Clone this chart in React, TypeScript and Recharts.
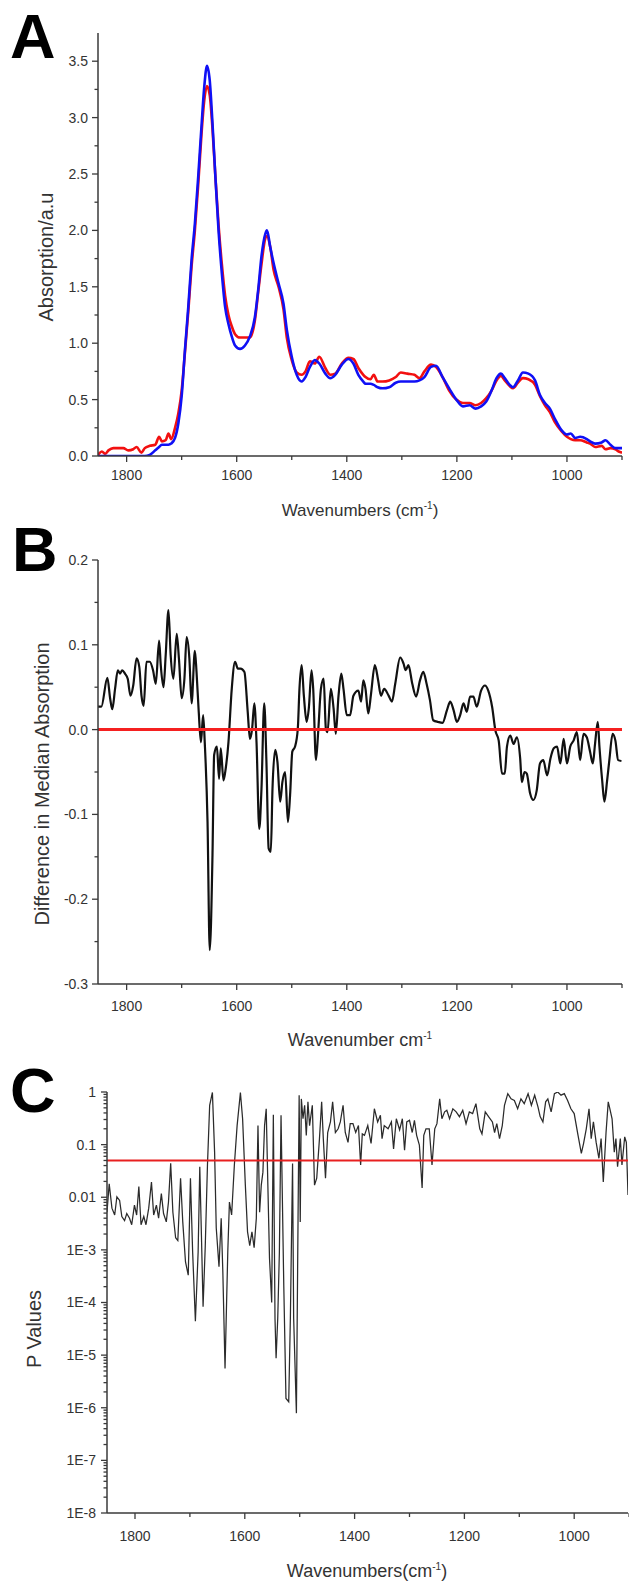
import React from "react";
import { LineChart, Line, XAxis, YAxis, ReferenceLine } from "recharts";

// ---- panel A: median absorption spectra (red / blue groups) ----
const absWavenumbers = [
  1852, 1845, 1839, 1833, 1824, 1815, 1806, 1797, 1788, 1782,
  1773, 1767, 1758, 1748, 1741, 1736, 1729, 1724, 1719, 1712,
  1706, 1700, 1694, 1688, 1682, 1676, 1670, 1664, 1659, 1654,
  1649, 1644, 1639, 1633, 1627, 1621, 1615, 1609, 1603, 1594,
  1585, 1576, 1567, 1561, 1555, 1548, 1545, 1539, 1533, 1524,
  1515, 1509, 1500, 1491, 1482, 1475, 1467, 1458, 1450, 1439,
  1430, 1421, 1409, 1397, 1388, 1379, 1370, 1366, 1357, 1351,
  1344, 1335, 1323, 1311, 1302, 1290, 1277, 1268, 1259, 1247,
  1238, 1226, 1214, 1201, 1189, 1177, 1166, 1156, 1147, 1137,
  1128, 1120, 1113, 1104, 1098, 1089, 1080, 1070, 1058, 1049,
  1040, 1031, 1022, 1010, 1000, 993, 985, 976, 964, 958,
  949, 937, 930, 921, 912, 906, 900,
];
const absRed = [
  0.01, 0.04, 0.02, 0.05, 0.07, 0.07, 0.07, 0.05, 0.06, 0.08,
  0.03, 0.07, 0.09, 0.1, 0.17, 0.13, 0.14, 0.2, 0.15, 0.25,
  0.38, 0.58, 0.92, 1.28, 1.68, 2.0, 2.4, 2.85, 3.15, 3.28,
  3.2, 2.9, 2.5, 2.05, 1.7, 1.42, 1.25, 1.15, 1.08, 1.05,
  1.05, 1.05, 1.2, 1.45, 1.7, 1.93, 1.95, 1.85, 1.65, 1.5,
  1.3, 1.05, 0.85, 0.74, 0.72, 0.75, 0.84, 0.82, 0.88, 0.78,
  0.72, 0.73, 0.82, 0.87, 0.86, 0.78, 0.72, 0.7, 0.68, 0.72,
  0.66, 0.66, 0.67, 0.7, 0.74, 0.73, 0.72, 0.69, 0.75, 0.81,
  0.79, 0.7, 0.58, 0.5, 0.47, 0.47, 0.45, 0.47, 0.51, 0.58,
  0.67, 0.71, 0.67, 0.62, 0.6, 0.65, 0.69, 0.68, 0.63, 0.53,
  0.45, 0.39, 0.3, 0.22, 0.17, 0.15, 0.14, 0.14, 0.12, 0.11,
  0.08, 0.09, 0.06, 0.07, 0.06, 0.04, 0.03,
];
const absBlue = [
  0, 0, 0, 0, 0, 0, 0, 0, 0, 0,
  0, 0, 0.01, 0.05, 0.08, 0.1, 0.1, 0.1, 0.11, 0.16,
  0.29, 0.53, 0.94, 1.32, 1.74, 2.06, 2.47, 2.92, 3.27, 3.46,
  3.33, 2.95, 2.5, 2.0, 1.62, 1.32, 1.17, 1.06, 0.98, 0.95,
  0.98, 1.06, 1.23, 1.47, 1.77, 1.97, 2.0, 1.85, 1.71, 1.53,
  1.35, 1.12, 0.88, 0.72, 0.66, 0.7, 0.79, 0.85, 0.82, 0.73,
  0.69, 0.72, 0.81, 0.86, 0.82, 0.72, 0.66, 0.64, 0.64, 0.63,
  0.61, 0.6, 0.61, 0.65, 0.66, 0.66, 0.66, 0.67, 0.7, 0.79,
  0.8, 0.7, 0.6, 0.5, 0.44, 0.45, 0.42, 0.44, 0.48, 0.58,
  0.69, 0.73, 0.69, 0.63, 0.61, 0.67, 0.74, 0.73, 0.67, 0.54,
  0.47, 0.42, 0.33, 0.23, 0.19, 0.2, 0.16, 0.17, 0.15, 0.13,
  0.11, 0.12, 0.14, 0.1, 0.07, 0.07, 0.07,
];

// ---- panel B: difference in median absorption ----
const diffWavenumbers = [
  1852, 1846, 1835, 1830, 1826, 1821, 1816, 1812, 1808, 1803,
  1798, 1793, 1788, 1782, 1777, 1773, 1769, 1764, 1758, 1752,
  1747, 1741, 1738, 1733, 1729, 1724, 1720, 1715, 1709, 1705,
  1700, 1695, 1691, 1686, 1682, 1676, 1673, 1669, 1665, 1661,
  1658, 1653, 1649, 1644, 1641, 1636, 1632, 1629, 1624, 1620,
  1615, 1609, 1603, 1598, 1593, 1586, 1580, 1576, 1572, 1568,
  1564, 1559, 1555, 1550, 1546, 1542, 1538, 1535, 1530, 1526,
  1521, 1517, 1512, 1507, 1503, 1499, 1494, 1489, 1486, 1482,
  1478, 1473, 1469, 1464, 1461, 1456, 1452, 1447, 1442, 1438,
  1435, 1429, 1424, 1420, 1415, 1410, 1406, 1400, 1394, 1388,
  1379, 1374, 1370, 1366, 1361, 1356, 1349, 1343, 1338, 1332,
  1324, 1318, 1312, 1303, 1297, 1293, 1288, 1281, 1274, 1267,
  1261, 1255, 1249, 1243, 1234, 1226, 1218, 1212, 1206, 1200,
  1194, 1188, 1182, 1176, 1170, 1164, 1156, 1149, 1143, 1136,
  1130, 1124, 1118, 1113, 1109, 1103, 1097, 1091, 1085, 1082,
  1077, 1073, 1067, 1061, 1055, 1049, 1043, 1036, 1030, 1024,
  1018, 1012, 1006, 1000, 994, 988, 982, 976, 970, 964,
  958, 953, 949, 944, 941, 936, 932, 927, 923, 917,
  912, 907, 901,
];
const diffValues = [
  0.027, 0.027, 0.061, 0.037, 0.024, 0.048, 0.07, 0.066, 0.07, 0.066,
  0.06, 0.04, 0.052, 0.084, 0.074, 0.04, 0.028, 0.08, 0.08, 0.07,
  0.054, 0.105, 0.076, 0.05, 0.088, 0.141, 0.088, 0.06, 0.113, 0.084,
  0.037, 0.06, 0.109, 0.084, 0.031, 0.093, 0.068, 0.021, -0.015, 0.017,
  -0.016, -0.109, -0.26, -0.148, -0.03, -0.02, -0.058, -0.022, -0.06, -0.046,
  -0.015, 0.048, 0.08, 0.072, 0.072, 0.068, 0.021, -0.011, 0.001, 0.031,
  -0.015, -0.117, -0.07, 0.031, -0.038, -0.14, -0.144, -0.07, -0.024, -0.038,
  -0.085, -0.062, -0.05, -0.109, -0.077, -0.026, -0.02, 0.001, 0.048, 0.076,
  0.04, 0.009, 0.025, 0.07, 0.048, -0.036, -0.003, 0.048, 0.06, 0.001,
  -0.003, 0.048, 0.025, -0.005, 0.04, 0.066, 0.048, 0.017, 0.017, 0.04,
  0.046, 0.033, 0.058, 0.048, 0.019, 0.042, 0.076, 0.058, 0.04, 0.048,
  0.04, 0.033, 0.054, 0.085, 0.078, 0.07, 0.076, 0.054, 0.039, 0.058,
  0.068, 0.054, 0.035, 0.011, 0.009, 0.008, 0.023, 0.033, 0.023, 0.009,
  0.017, 0.031, 0.021, 0.039, 0.039, 0.027, 0.046, 0.052, 0.046, 0.027,
  -0.001, -0.013, -0.052, -0.052, -0.02, -0.007, -0.017, -0.009, -0.034, -0.062,
  -0.05, -0.052, -0.075, -0.083, -0.072, -0.04, -0.036, -0.054, -0.034, -0.022,
  -0.02, -0.04, -0.011, -0.04, -0.02, -0.013, -0.003, -0.036, -0.005, -0.009,
  -0.026, -0.04, -0.017, 0.009, -0.02, -0.06, -0.085, -0.06, -0.036, -0.005,
  -0.013, -0.036, -0.037,
];

// ---- panel C: p values ----
const pWavenumbers = [
  1851, 1847, 1842, 1837, 1833, 1828, 1824, 1819, 1815, 1810,
  1806, 1801, 1797, 1793, 1789, 1784, 1780, 1775, 1770, 1766,
  1761, 1757, 1752, 1748, 1743, 1739, 1735, 1731, 1726, 1722,
  1717, 1713, 1708, 1703, 1699, 1695, 1690, 1685, 1682, 1679,
  1676, 1672, 1668, 1664, 1659, 1655, 1652, 1647, 1643, 1640,
  1636, 1631, 1628, 1624, 1619, 1614, 1608, 1604, 1599, 1595,
  1591, 1587, 1583, 1579, 1576, 1573, 1570, 1567, 1564, 1561,
  1558, 1555, 1551, 1548, 1545, 1543, 1540, 1537, 1534, 1529,
  1525, 1520, 1517, 1513, 1511, 1506, 1503, 1501, 1499, 1497,
  1494, 1491, 1488, 1485, 1482, 1477, 1473, 1469, 1464, 1460,
  1457, 1453, 1449, 1444, 1440, 1435, 1430, 1426, 1421, 1417,
  1412, 1408, 1403, 1398, 1393, 1389, 1386, 1382, 1376, 1370,
  1364, 1358, 1353, 1350, 1346, 1339, 1333, 1329, 1324, 1318,
  1313, 1309, 1305, 1300, 1295, 1291, 1287, 1282, 1277, 1274,
  1270, 1264, 1259, 1254, 1250, 1245, 1241, 1236, 1232, 1227,
  1221, 1215, 1209, 1203, 1197, 1191, 1185, 1179, 1172, 1168,
  1162, 1156, 1149, 1145, 1141, 1136, 1131, 1127, 1121, 1115,
  1109, 1103, 1097, 1091, 1084, 1078, 1072, 1066, 1062, 1057,
  1052, 1048, 1042, 1036, 1030, 1024, 1018, 1012, 1006, 1000,
  993, 987, 983, 978, 973, 969, 965, 960, 955, 951,
  947, 942, 938, 935, 931, 927, 924, 921, 916, 913,
  908, 905, 902,
];
const pValues = [
  0.0052, 0.018, 0.0062, 0.0046, 0.0102, 0.0087, 0.0043, 0.0036, 0.0049, 0.004,
  0.003, 0.0071, 0.0046, 0.016, 0.003, 0.0043, 0.003, 0.0062, 0.0195, 0.0046,
  0.0071, 0.004, 0.0117, 0.0049, 0.0034, 0.0081, 0.044, 0.0052, 0.0017, 0.0015,
  0.023, 0.0034, 5.9e-4, 3.3e-4, 0.023, 9.1e-4, 4.4e-5, 9.1e-4, 0.038, 0.0019,
  8.3e-5, 0.0012, 0.041, 0.56, 0.98, 0.072, 0.0026, 4.8e-4, 0.004, 3.8e-4,
  5.6e-6, 9.1e-4, 0.0081, 0.0046, 0.041, 0.23, 0.98, 0.31, 0.017, 0.0022,
  0.0012, 0.0022, 0.0011, 0.004, 0.23, 0.0052, 0.017, 0.03, 0.23, 0.48,
  0.017, 6.9e-4, 1.0e-4, 0.37, 5e-5, 8.7e-6, 5e-5, 9.1e-4, 0.36, 2.1e-4,
  1.5e-6, 1.3e-6, 5e-5, 0.044, 5e-5, 7.9e-7, 0.004, 0.87, 0.0034, 0.74,
  0.31, 0.56, 0.15, 0.65, 0.23, 0.56, 0.017, 0.023, 0.13, 0.65,
  0.13, 0.023, 0.17, 0.27, 0.65, 0.17, 0.2, 0.27, 0.56, 0.17,
  0.11, 0.25, 0.25, 0.17, 0.23, 0.041, 0.16, 0.15, 0.23, 0.105,
  0.48, 0.27, 0.36, 0.13, 0.23, 0.2, 0.27, 0.083, 0.31, 0.19,
  0.31, 0.078, 0.27, 0.29, 0.17, 0.29, 0.15, 0.098, 0.015, 0.15,
  0.2, 0.2, 0.041, 0.2, 0.25, 0.74, 0.31, 0.42, 0.45, 0.31,
  0.48, 0.42, 0.34, 0.45, 0.25, 0.42, 0.39, 0.6, 0.2, 0.16,
  0.42, 0.34, 0.27, 0.17, 0.25, 0.13, 0.23, 0.56, 0.93, 0.74,
  0.69, 0.48, 0.74, 0.6, 0.93, 0.56, 0.87, 0.52, 0.34, 0.27,
  0.65, 0.74, 0.42, 0.93, 1.0, 0.87, 0.93, 0.69, 0.48, 0.39,
  0.15, 0.068, 0.105, 0.2, 0.48, 0.13, 0.27, 0.11, 0.055, 0.13,
  0.0195, 0.17, 0.65, 0.48, 0.31, 0.072, 0.13, 0.038, 0.13, 0.041,
  0.14, 0.11, 0.011,
];
const pThreshold = 0.05;

// ---- ticks ----
const wnTicks = [1800, 1700, 1600, 1500, 1400, 1300, 1200, 1100, 1000, 900];
const wnLabelled = [1800, 1600, 1400, 1200, 1000];
const absTicks = [0, 0.25, 0.5, 0.75, 1, 1.25, 1.5, 1.75, 2, 2.25, 2.5, 2.75, 3, 3.25, 3.5];
const absLabelled = [0, 0.5, 1, 1.5, 2, 2.5, 3, 3.5];
const diffTicks = [-0.3, -0.25, -0.2, -0.15, -0.1, -0.05, 0, 0.05, 0.1, 0.15, 0.2];
const diffLabelled = [-0.3, -0.2, -0.1, 0, 0.1, 0.2];
const pDecades = [1, 0.1, 0.01, 1e-3, 1e-4, 1e-5, 1e-6, 1e-7, 1e-8];
const pDecadeLabels = ["1", "0.1", "0.01", "1E-3", "1E-4", "1E-5", "1E-6", "1E-7", "1E-8"];
const pMinorSteps = [2, 3, 4, 5, 6, 7, 8, 9];

const absData = absWavenumbers.map((wn, i) => ({ wn, red: absRed[i], blue: absBlue[i] }));
const diffData = diffWavenumbers.map((wn, i) => ({ wn, diff: diffValues[i] }));
const pData = pWavenumbers.map((wn, i) => ({ wn, p: pValues[i] }));
const pTicks = [...pDecades];
pDecades.slice(1).forEach((d) => pMinorSteps.forEach((m) => pTicks.push(m * d)));

const FONT = '"Liberation Sans", Arial, Helvetica, sans-serif';
const AXIS = "#3a3a3a";
const TEXT = "#333";

const near = (a: number, b: number) => Math.abs(a - b) < 1e-9 * Math.max(1, Math.abs(b));

function makeYTick(labelFor: (v: number) => string | null, gap: number) {
  return (props: any) => {
    const { x, y, payload } = props;
    const label = labelFor(payload.value);
    const len = label !== null ? 6 : 3.5;
    return (
      <g>
        <line x1={x} x2={x - len} y1={y} y2={y} stroke={AXIS} strokeWidth={1.3} />
        {label !== null && (
          <text x={x - gap} y={y} dy="0.35em" textAnchor="end" fontSize={14} fontFamily={FONT} fill={TEXT}>
            {label}
          </text>
        )}
      </g>
    );
  };
}

function makeXTick(offset: number) {
  return (props: any) => {
    const { x, y, payload } = props;
    const v = payload.value;
    const major = wnLabelled.some((t) => near(t, v));
    return (
      <g>
        <line x1={x} x2={x} y1={y} y2={y + (major ? 6 : 4)} stroke={AXIS} strokeWidth={1.3} />
        {major && (
          <text x={x} y={y + offset} dy="0.35em" textAnchor="middle" fontSize={14} fontFamily={FONT} fill={TEXT}>
            {v}
          </text>
        )}
      </g>
    );
  };
}

const absYTick = makeYTick((v) => (absLabelled.some((t) => near(t, v)) ? v.toFixed(1) : null), 10);
const diffYTick = makeYTick((v) => (diffLabelled.some((t) => near(t, v)) ? v.toFixed(1) : null), 10);
const pYTick = makeYTick((v) => {
  const i = pDecades.findIndex((d) => near(d, v));
  return i >= 0 ? pDecadeLabels[i] : null;
}, 11);

const axisLine = { stroke: AXIS, strokeWidth: 1.5 };

export default function App() {
  return (
    <div style={{ position: "absolute", left: 0, top: 0, width: 629, height: 1583, background: "#fff" }}>
      <div style={{ position: "absolute", left: 0, top: 0 }}>
        <LineChart width={629} height={530} data={absData} margin={{ top: 33, right: 7, bottom: 0, left: 0 }}>
          <XAxis
            type="number"
            dataKey="wn"
            domain={[900, 1852]}
            reversed
            allowDataOverflow
            ticks={wnTicks}
            interval={0}
            tick={makeXTick(19)}
            tickLine={false}
            tickSize={0}
            tickMargin={0}
            axisLine={axisLine}
            height={74}
          />
          <YAxis
            type="number"
            domain={[0, 3.75]}
            allowDataOverflow
            ticks={absTicks}
            interval={0}
            tick={absYTick}
            tickLine={false}
            tickSize={0}
            tickMargin={0}
            axisLine={axisLine}
            width={98}
          />
          <Line type="monotone" dataKey="red" stroke="#f21010" strokeWidth={2.6} dot={false} isAnimationActive={false} />
          <Line type="monotone" dataKey="blue" stroke="#1010f5" strokeWidth={2.6} dot={false} isAnimationActive={false} />
        </LineChart>
      </div>

      <div style={{ position: "absolute", left: 0, top: 520 }}>
        <LineChart width={629} height={520} data={diffData} margin={{ top: 40, right: 7, bottom: 0, left: 0 }}>
          <XAxis
            type="number"
            dataKey="wn"
            domain={[900, 1852]}
            reversed
            allowDataOverflow
            ticks={wnTicks}
            interval={0}
            tick={makeXTick(22)}
            tickLine={false}
            tickSize={0}
            tickMargin={0}
            axisLine={axisLine}
            height={56}
          />
          <YAxis
            type="number"
            domain={[-0.3, 0.2]}
            allowDataOverflow
            ticks={diffTicks}
            interval={0}
            tick={diffYTick}
            tickLine={false}
            tickSize={0}
            tickMargin={0}
            axisLine={axisLine}
            width={98}
          />
          <Line type="monotone" dataKey="diff" stroke="#111" strokeWidth={2.2} dot={false} isAnimationActive={false} />
          <ReferenceLine y={0} stroke="#f52020" strokeWidth={3} />
        </LineChart>
      </div>

      <div style={{ position: "absolute", left: 0, top: 1040 }}>
        <LineChart width={629} height={543} data={pData} margin={{ top: 52, right: 1, bottom: 0, left: 0 }}>
          <XAxis
            type="number"
            dataKey="wn"
            domain={[902, 1851]}
            reversed
            allowDataOverflow
            ticks={wnTicks}
            interval={0}
            tick={makeXTick(23)}
            tickLine={false}
            tickSize={0}
            tickMargin={0}
            axisLine={axisLine}
            height={70}
          />
          <YAxis
            type="number"
            scale="log"
            domain={[1e-8, 1]}
            allowDataOverflow
            ticks={pTicks}
            interval={0}
            tick={pYTick}
            tickLine={false}
            tickSize={0}
            tickMargin={0}
            axisLine={axisLine}
            width={107}
          />
          <Line type="linear" dataKey="p" stroke="#2b2b2b" strokeWidth={1.25} dot={false} isAnimationActive={false} />
          <ReferenceLine y={pThreshold} stroke="#e82020" strokeWidth={2} />
        </LineChart>
      </div>

      <svg width={629} height={1583} style={{ position: "absolute", left: 0, top: 0, pointerEvents: "none" }}>
        <g fontFamily={FONT} fill="#000" fontWeight="bold" fontSize={63}>
          <text x={10} y={58}>A</text>
          <text x={12} y={571}>B</text>
          <text x={10} y={1112}>C</text>
        </g>
        <g fontFamily={FONT} fill={TEXT}>
          <text fontSize={20} textAnchor="middle" transform="translate(53,257) rotate(-90)">Absorption/a.u</text>
          <text fontSize={20} textAnchor="middle" transform="translate(49,784) rotate(-90)">Difference in Median Absorption</text>
          <text fontSize={20} textAnchor="middle" transform="translate(41,1329) rotate(-90)">P Values</text>
          <text fontSize={17} textAnchor="middle" x={360} y={516}>
            Wavenumbers (cm<tspan fontSize={10} dy={-7}>-1</tspan><tspan dy={7}>)</tspan>
          </text>
          <text fontSize={18} textAnchor="middle" x={360} y={1046}>
            Wavenumber cm<tspan fontSize={10} dy={-7}>-1</tspan>
          </text>
          <text fontSize={18} textAnchor="middle" x={367} y={1577}>
            Wavenumbers(cm<tspan fontSize={10} dy={-7}>-1</tspan><tspan dy={7}>)</tspan>
          </text>
        </g>
      </svg>
    </div>
  );
}
